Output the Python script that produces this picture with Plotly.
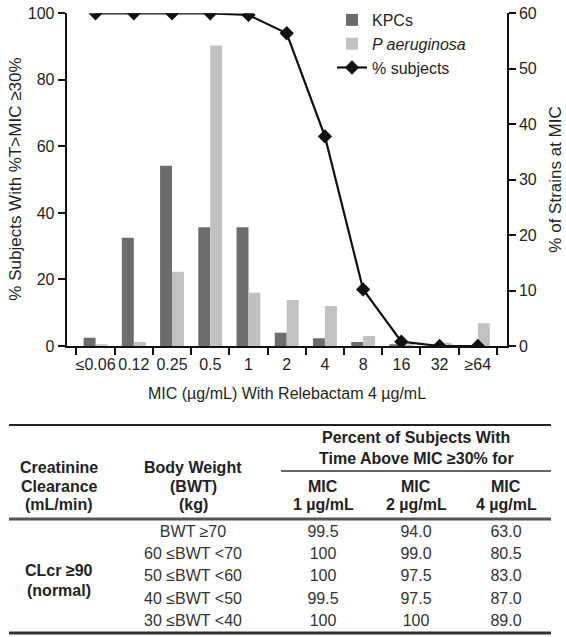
import plotly.graph_objects as go

# ---------------- data ----------------
mic_labels = ["≤0.06", "0.12", "0.25", "0.5", "1", "2", "4", "8", "16", "32", "≥64"]
kpc_pct = [1.5, 19.5, 32.5, 21.4, 21.4, 2.4, 1.4, 0.7, 0.3, 0.0, 0.0]
paer_pct = [0.3, 0.7, 13.4, 54.2, 9.6, 8.3, 7.2, 1.8, 0.3, 0.6, 4.1]
subjects_pct = [100, 100, 100, 100, 99.5, 94.0, 63.0, 17.0, 1.3, 0.0, 0.0]

bwt_groups = ["BWT ≥70", "60 ≤BWT <70", "50 ≤BWT <60", "40 ≤BWT <50", "30 ≤BWT <40"]
mic1_vals = [99.5, 100, 100, 99.5, 100]
mic2_vals = [94.0, 99.0, 97.5, 97.5, 100]
mic4_vals = [63.0, 80.5, 83.0, 87.0, 89.0]
clcr_lines = ["CLcr ≥90", "(normal)"]

# ---------------- layout constants (pixels) ----------------
W, H = 566, 637
FONT = "Liberation Sans, Arial, sans-serif"
TXT = "#231f20"


def fx(px):
    return px / W


def fy(py):
    return 1 - py / H


PLOT_L, PLOT_R, PLOT_T, PLOT_B = 66.7, 506.7, 13.3, 346
TABLE_TOP = 410

COL_X = [59, 193, 323, 416, 506]
ROW_Y0, ROW_DY = 533, 22.2


def fmt(v):
    return "100" if v == 100 else f"{v:.1f}"


fig = go.Figure()

fig.add_bar(x=mic_labels, y=kpc_pct, name="KPCs", marker_color="#6d6d6d",
            marker_line_width=0, xaxis="x", yaxis="y", legendgroup="a")
fig.add_bar(x=mic_labels, y=paer_pct, name="<i>P aeruginosa</i>", marker_color="#c1c1c1",
            marker_line_width=0, xaxis="x", yaxis="y", legendgroup="b")
fig.add_scatter(x=mic_labels, y=subjects_pct, name="% subjects", mode="lines+markers",
                line=dict(color="#111111", width=2.2),
                marker=dict(symbol="diamond", size=11, color="#111111"),
                xaxis="x", yaxis="y2", legendgroup="c")

# table body as text traces on a hidden pixel-unit axis pair
rows_y = [ROW_Y0 + i * ROW_DY for i in range(len(bwt_groups))]
body_cols = [bwt_groups, [fmt(v) for v in mic1_vals], [fmt(v) for v in mic2_vals],
             [fmt(v) for v in mic4_vals]]
for cx, col in zip(COL_X[1:], body_cols):
    fig.add_scatter(x=[cx] * len(col), y=rows_y, text=col, mode="text",
                    textfont=dict(family=FONT, size=16, color="#333333"),
                    textposition="middle center", showlegend=False, hoverinfo="skip",
                    xaxis="x3", yaxis="y3")

tick_font = dict(family=FONT, size=16, color=TXT)
axis_common = dict(showline=True, linewidth=2, linecolor="#111111", ticks="outside",
                   ticklen=7, tickwidth=1.8, tickcolor="#111111", showgrid=False,
                   zeroline=False, tickfont=tick_font, automargin=False)

fig.update_layout(
    width=W, height=H, autosize=False,
    margin=dict(l=0, r=0, t=0, b=0, autoexpand=False),
    paper_bgcolor="white", plot_bgcolor="rgba(0,0,0,0)",
    barmode="group", bargap=0.375, bargroupgap=0,
    font=dict(family=FONT, size=16, color=TXT),
    xaxis=dict(domain=[fx(PLOT_L), fx(PLOT_R)], type="category", tickson="boundaries",
               tickangle=0, ticklabelstandoff=3, anchor="y", **axis_common),
    yaxis=dict(domain=[fy(PLOT_B), fy(PLOT_T)], range=[0, 60], dtick=10, side="right",
               anchor="x", **axis_common),
    yaxis2=dict(range=[0, 100], dtick=20, side="left", overlaying="y", anchor="x",
                **axis_common),
    xaxis3=dict(domain=[0, 1], range=[0, W], visible=False, anchor="y3", automargin=False),
    yaxis3=dict(domain=[0, fy(TABLE_TOP)], range=[H, TABLE_TOP], visible=False, anchor="x3",
                automargin=False),
    legend=dict(x=fx(332), y=fy(3), xanchor="left", yanchor="top",
                bgcolor="rgba(0,0,0,0)", font=dict(family=FONT, size=16, color=TXT),
                traceorder="grouped", tracegroupgap=0),
    showlegend=True,
)

ann = []
mid_y = fy((PLOT_T + PLOT_B) / 2)
ann.append(dict(text="% Subjects With %T>MIC ≥30%", x=fx(16), y=mid_y,
                xref="paper", yref="paper", textangle=-90, showarrow=False,
                xanchor="center", yanchor="middle", font=dict(size=17)))
ann.append(dict(text="% of Strains at MIC", x=fx(556), y=mid_y,
                xref="paper", yref="paper", textangle=-90, showarrow=False,
                xanchor="center", yanchor="middle", font=dict(size=17)))
ann.append(dict(text="MIC (µg/mL) With Relebactam 4 µg/mL", x=fx(287), y=fy(393),
                xref="paper", yref="paper", showarrow=False,
                xanchor="center", yanchor="middle", font=dict(size=16)))


def tab_text(txt, x, y, bold=True, size=16):
    t = f"<b>{txt}</b>" if bold else txt
    ann.append(dict(text=t, x=x, y=y, xref="x3", yref="y3", showarrow=False,
                    xanchor="center", yanchor="middle",
                    font=dict(size=size, color="#222222")))


for txt, y in zip(["Creatinine", "Clearance", "(mL/min)"], [467, 486, 504]):
    tab_text(txt, COL_X[0], y)
for txt, y in zip(["Body Weight", "(BWT)", "(kg)"], [467, 486, 504]):
    tab_text(txt, COL_X[1], y)
tab_text("Percent of Subjects With", 416, 437)
tab_text("Time Above MIC ≥30% for", 416, 458)
for cx, conc in zip(COL_X[2:], ["1 µg/mL", "2 µg/mL", "4 µg/mL"]):
    tab_text("MIC", cx, 486)
    tab_text(conc, cx, 504)
for txt, y in zip(clcr_lines, [570, 590]):
    tab_text(txt, COL_X[0], y)

fig.update_layout(annotations=ann)

shapes = []
for x0, x1, y, w, c in [(9, 551, 425, 2, "#222222"), (281, 551, 471, 1.6, "#333333"),
                        (9, 551, 519, 3, "#555555"), (9, 551, 633, 3, "#333333")]:
    shapes.append(dict(type="line", xref="x3", yref="y3", x0=x0, x1=x1, y0=y, y1=y,
                       line=dict(color=c, width=w)))
fig.update_layout(shapes=shapes)

fig.write_html("out.html", config={"displayModeBar": False},
               post_script="document.body.style.margin='0';document.body.style.overflow='hidden';")
